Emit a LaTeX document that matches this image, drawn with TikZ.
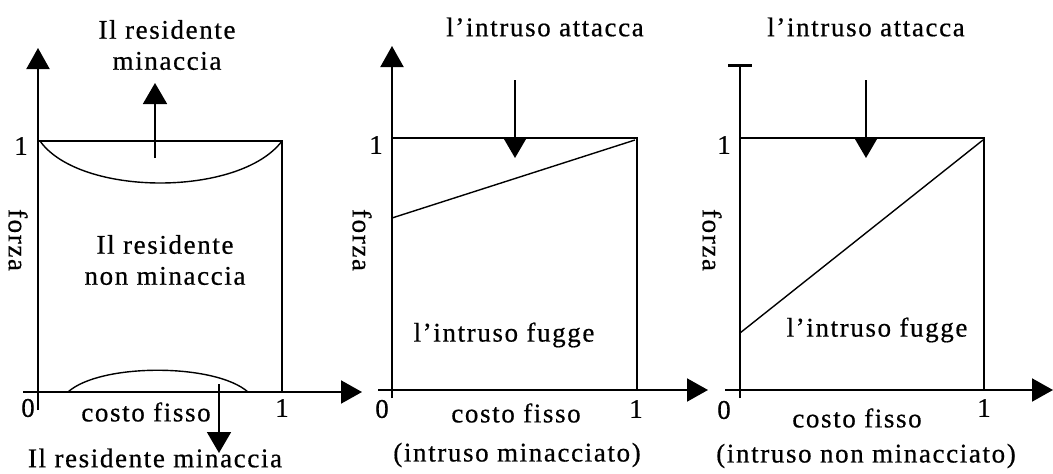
\documentclass[tikz,border=0pt]{standalone}
\usepackage{fontspec}
\setmainfont{Liberation Serif}[LetterSpace=6,FakeBold=0.6]
\usetikzlibrary{arrows.meta}
\begin{document}
\begin{tikzpicture}[x=1pt,y=-1pt,
  axis/.style={line width=2pt,-{Triangle[width=23pt,length=21pt]}},
  barend/.style={line width=2pt,-{Bar[width=24pt,line width=3pt]}},
  frame/.style={line width=1.8pt},
  curve/.style={line width=1.4pt},
  arr/.style={line width=1.8pt,-{Triangle[width=24pt,length=21pt]}},
  lbl/.style={font=\fontsize{27}{31}\selectfont,inner sep=0pt,align=center},
]
\useasboundingbox (0,0) rectangle (1053,474);
% ---------------- panel 1
\coordinate (a1b) at (38,410); \coordinate (a1t) at (38,48);
\coordinate (x1l) at (23,392); \coordinate (x1r) at (362,392);
\coordinate (p1tl) at (38,141); \coordinate (p1tr) at (282,141); \coordinate (p1br) at (282,392);
\draw[axis] (a1b) -- (a1t);
\draw[axis] (x1l) -- (x1r);
\draw[frame] (p1tl) -- (p1tr) -- (p1br);
\draw[curve] (40,141) .. controls (80,197) and (240,197) .. (282,141);
\draw[curve] (68,392) .. controls (100,363) and (215,363) .. (248,392);
\coordinate (u1s) at (155,158); \coordinate (u1e) at (155,83);
\draw[arr] (u1s) -- (u1e);
\coordinate (d1s) at (219,384); \coordinate (d1e) at (219,453);
\draw[arr] (d1s) -- (d1e);
\node[lbl] (t1) at (167,45) {Il residente\\minaccia};
\node[lbl] (y1) at (21,146) {1};
\node[lbl,rotate=-90] (f1) at (18,240) {forza};
\node[lbl] (m1) at (165,260) {Il residente\\non minaccia};
\node[lbl] (z1) at (28,408) {0};
\node[lbl] (one1) at (282,408) {1};
\node[lbl] (c1) at (146,412) {costo fisso};
\node[lbl] (b1) at (155,458) {Il residente minaccia};
% ---------------- panel 2
\coordinate (a2b) at (392,398); \coordinate (a2t) at (392,46);
\coordinate (x2l) at (378,390); \coordinate (x2r) at (708,390);
\coordinate (p2tl) at (392,138); \coordinate (p2tr) at (637,138); \coordinate (p2br) at (637,390);
\draw[axis] (a2b) -- (a2t);
\draw[axis] (x2l) -- (x2r);
\draw[frame] (p2tl) -- (p2tr) -- (p2br);
\coordinate (l2a) at (392,218); \coordinate (l2b) at (635,140);
\draw[curve] (l2a) -- (l2b);
\coordinate (d2s) at (515,80); \coordinate (d2e) at (515,158);
\draw[arr] (d2s) -- (d2e);
\node[lbl] (t2) at (545,27) {l’intruso attacca};
\node[lbl] (y2) at (376,145) {1};
\node[lbl,rotate=-90] (f2) at (362,240) {forza};
\node[lbl] (m2) at (504,335) {l’intruso fugge};
\node[lbl] (z2) at (382,409) {0};
\node[lbl] (one2) at (636,409) {1};
\node[lbl] (c2) at (516,413) {costo fisso};
\node[lbl] (b2) at (517,455) {(intruso minacciato)};
% ---------------- panel 3
\coordinate (a3b) at (740,398); \coordinate (a3t) at (740,64);
\coordinate (x3l) at (725,390); \coordinate (x3r) at (1053,390);
\coordinate (p3tl) at (740,138); \coordinate (p3tr) at (984,138); \coordinate (p3br) at (984,390);
\draw[barend] (a3b) -- (a3t);
\draw[axis] (x3l) -- (x3r);
\draw[frame] (p3tl) -- (p3tr) -- (p3br);
\coordinate (l3a) at (740,333); \coordinate (l3b) at (983,140);
\draw[curve] (l3a) -- (l3b);
\coordinate (d3s) at (866,80); \coordinate (d3e) at (866,158);
\draw[arr] (d3s) -- (d3e);
\node[lbl] (t3) at (866,27) {l’intruso attacca};
\node[lbl] (y3) at (724,145) {1};
\node[lbl,rotate=-90] (f3) at (712,240) {forza};
\node[lbl] (m3) at (877,330) {l’intruso fugge};
\node[lbl] (z3) at (724,410) {0};
\node[lbl] (one3) at (984,408) {1};
\node[lbl] (c3) at (857,418) {costo fisso};
\node[lbl] (b3) at (866,456) {(intruso non minacciato)};
\end{tikzpicture}
\end{document}
